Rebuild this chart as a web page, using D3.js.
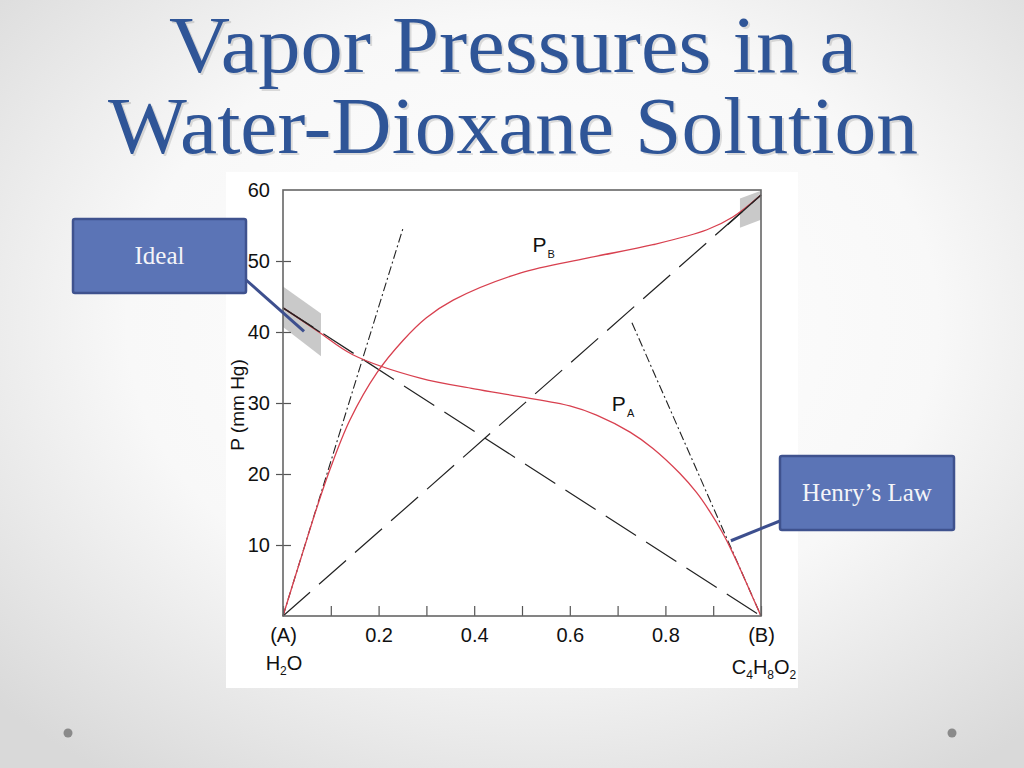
<!DOCTYPE html>
<html>
<head>
<meta charset="utf-8">
<script src="https://cdn.jsdelivr.net/npm/d3@7"></script>
<style>
  html, body { margin: 0; padding: 0; background: #fff; }
  svg { display: block; }
</style>
</head>
<body>
<div id="chart"></div>
<script>
// mole fraction of dioxane (x axis) and pressure in mm Hg (y axis)
var paX = [0, 0.04, 0.077, 0.146, 0.287, 0.40, 0.496, 0.600, 0.656, 0.726, 0.774, 0.830, 0.865, 0.893, 0.918, 0.935, 0.956, 0.977, 1]
var paP = [43.4, 41.6, 39.9, 36.8, 33.5, 32.0, 30.9, 29.6, 28.3, 25.9, 23.6, 20.1, 17.4, 14.7, 11.9, 9.7, 6.7, 3.5, 0]

var pbX = [0, 0.042, 0.071, 0.098, 0.140, 0.197, 0.251, 0.300, 0.356, 0.496, 0.636, 0.774, 0.887, 0.941, 1]
var pbP = [0, 9.1, 15.3, 20.6, 27.6, 34.3, 38.8, 42.0, 44.5, 48.3, 50.4, 52.3, 54.4, 56.2, 59.3]

// Raoult (ideal) lines and Henry's law lines
var idealAX = [0, 1], idealAP = [43.4, 0]
var idealBX = [0, 1], idealBP = [0, 59.3]
var henryBX = [0, 0.251], henryBP = [0, 54.6]
var henryAX = [0.730, 1], henryAP = [41.3, 0]
var solidAX = [0, 0.077], solidAP = [43.4, 40.0]
var solidBX = [0.93, 1], solidBP = [55.1, 59.3]

// shaded "ideal" regions
var bandLeftX = [0, 0.0795, 0.0795, 0], bandLeftP = [46.4, 42.6, 36.6, 40.7]
var bandRightX = [0.956, 1, 1, 0.956], bandRightP = [58.8, 59.9, 55.8, 54.7]

var xTicks = [0, 0.1, 0.2, 0.3, 0.4, 0.5, 0.6, 0.7, 0.8, 0.9, 1]
var xTickLabels = ["(A)", "", "0.2", "", "0.4", "", "0.6", "", "0.8", "", "(B)"]
var yTicks = [10, 20, 30, 40, 50, 60]

var width = 1024
var height = 768

var svg = d3.select("#chart").append("svg")
  .attr("width", width)
  .attr("height", height)

var defs = svg.append("defs")
var grad = defs.append("radialGradient")
  .attr("id", "bg")
  .attr("cx", "52%").attr("cy", "42%").attr("r", "72%")
grad.append("stop").attr("offset", "0%").attr("stop-color", "#ffffff")
grad.append("stop").attr("offset", "55%").attr("stop-color", "#f8f8f8")
grad.append("stop").attr("offset", "100%").attr("stop-color", "#d9d9d9")

svg.append("rect")
  .attr("width", width).attr("height", height)
  .attr("fill", "url(#bg)")

// corner dots
svg.append("circle").attr("cx", 68).attr("cy", 733).attr("r", 4.5).attr("fill", "#8a8a8a")
svg.append("circle").attr("cx", 952).attr("cy", 733).attr("r", 4.5).attr("fill", "#8a8a8a")

// title
var titleLines = ["Vapor Pressures in a", "Water-Dioxane Solution"]
var titleBase = [72, 153]
var titleLen = [688, 810]
var title = svg.append("g")
  .attr("font-family", "'Liberation Serif', 'Times New Roman', serif")
  .attr("font-size", 80)
  .attr("text-anchor", "middle")
titleLines.forEach(function (t, i) {
  title.append("text")
    .attr("x", 515).attr("y", titleBase[i] + 2)
    .attr("textLength", titleLen[i]).attr("lengthAdjust", "spacingAndGlyphs")
    .attr("fill", "rgba(0,0,0,0.12)")
    .text(t)
  title.append("text")
    .attr("x", 513).attr("y", titleBase[i])
    .attr("textLength", titleLen[i]).attr("lengthAdjust", "spacingAndGlyphs")
    .attr("fill", "#2f5597")
    .text(t)
})

// white picture panel
svg.append("rect")
  .attr("x", 226).attr("y", 172)
  .attr("width", 572).attr("height", 516)
  .attr("fill", "#ffffff")

var plotLeft = 283, plotRight = 761, plotTop = 190, plotBottom = 616

var x = d3.scaleLinear().domain([0, 1]).range([plotLeft, plotRight])
var y = d3.scaleLinear().domain([0, 60]).range([plotBottom, plotTop])

var line = d3.line()
  .x(function (d) { return x(d[0]) })
  .y(function (d) { return y(d[1]) })

var smooth = d3.line()
  .x(function (d) { return x(d[0]) })
  .y(function (d) { return y(d[1]) })
  .curve(d3.curveCatmullRom.alpha(0.5))

function pairs(xs, ps) {
  return xs.map(function (v, i) { return [v, ps[i]] })
}

var plot = svg.append("g")

// gray bands
plot.append("path")
  .attr("d", line(pairs(bandLeftX, bandLeftP)) + "Z")
  .attr("fill", "#c9c9c9")
plot.append("path")
  .attr("d", line(pairs(bandRightX, bandRightP)) + "Z")
  .attr("fill", "#c9c9c9")

// axis and frame
var xAxis = d3.axisBottom(x)
  .tickValues(xTicks)
  .tickSize(-10)
  .tickPadding(12)
  .tickFormat(function (d, i) { return xTickLabels[i] })

var gx = svg.append("g")
  .attr("transform", "translate(0," + plotBottom + ")")
  .call(xAxis)
gx.select(".domain").remove()
gx.selectAll(".tick line").attr("stroke", "#555").attr("stroke-width", 1.2)
gx.selectAll(".tick text")
  .attr("font-family", "'Liberation Sans', Arial, sans-serif")
  .attr("font-size", 20)
  .attr("fill", "#111")

var yAxis = d3.axisLeft(y)
  .tickValues(yTicks)
  .tickSize(7)
  .tickPadding(6)

var gy = svg.append("g")
  .attr("transform", "translate(" + plotLeft + ",0)")
  .call(yAxis)
gy.select(".domain").remove()
gy.selectAll(".tick line")
  .attr("x1", 8).attr("x2", -7)
  .attr("stroke", "#555").attr("stroke-width", 1.2)
  .filter(function (d) { return d === 60 }).remove()
gy.selectAll(".tick text")
  .attr("font-family", "'Liberation Sans', Arial, sans-serif")
  .attr("font-size", 20)
  .attr("fill", "#111")

svg.append("rect")
  .attr("x", plotLeft).attr("y", plotTop)
  .attr("width", plotRight - plotLeft).attr("height", plotBottom - plotTop)
  .attr("fill", "none")
  .attr("stroke", "#666")
  .attr("stroke-width", 1.6)

svg.append("text")
  .attr("transform", "translate(244," + ((plotTop + plotBottom) / 2 + 2) + ") rotate(-90)")
  .attr("text-anchor", "middle")
  .attr("font-family", "'Liberation Sans', Arial, sans-serif")
  .attr("font-size", 19)
  .attr("fill", "#111")
  .text("P (mm Hg)")

// compound names under the axis ends
function formula(parts, cx, cy) {
  var t = svg.append("text")
    .attr("x", cx).attr("y", cy)
    .attr("text-anchor", "middle")
    .attr("font-family", "'Liberation Sans', Arial, sans-serif")
    .attr("font-size", 20)
    .attr("fill", "#111")
  parts.forEach(function (p) {
    t.append("tspan")
      .attr("font-size", p[1] ? 12 : 20)
      .attr("dy", p[1] ? 5 : (p[2] ? -5 : 0))
      .text(p[0])
  })
}
formula([["H"], ["2", true], ["O", false, true]], x(0) + 1, 670)
formula([["C"], ["4", true], ["H", false, true], ["8", true], ["O", false, true], ["2", true]], x(1) + 3, 674)

// reference lines
var dashed = "36,12"
var dashDot = "9,3,2,3"
plot.append("path").attr("d", line(pairs(idealAX, idealAP)))
  .attr("fill", "none").attr("stroke", "#222").attr("stroke-width", 1.2)
  .attr("stroke-dasharray", dashed)
plot.append("path").attr("d", line(pairs(idealBX, idealBP)))
  .attr("fill", "none").attr("stroke", "#222").attr("stroke-width", 1.2)
  .attr("stroke-dasharray", dashed)
plot.append("path").attr("d", line(pairs(henryBX, henryBP)))
  .attr("fill", "none").attr("stroke", "#222").attr("stroke-width", 1.1)
  .attr("stroke-dasharray", dashDot)
plot.append("path").attr("d", line(pairs(henryAX, henryAP)))
  .attr("fill", "none").attr("stroke", "#222").attr("stroke-width", 1.1)
  .attr("stroke-dasharray", dashDot)

// vapor pressure curves
plot.append("path").attr("d", smooth(pairs(paX, paP)))
  .attr("fill", "none").attr("stroke", "#d8404f").attr("stroke-width", 1.3)
plot.append("path").attr("d", smooth(pairs(pbX, pbP)))
  .attr("fill", "none").attr("stroke", "#d8404f").attr("stroke-width", 1.3)

plot.append("path").attr("d", line(pairs(solidAX, solidAP)))
  .attr("fill", "none").attr("stroke", "#222").attr("stroke-width", 1.3)
plot.append("path").attr("d", line(pairs(solidBX, solidBP)))
  .attr("fill", "none").attr("stroke", "#222").attr("stroke-width", 1.3)

// curve labels
function pLabel(sub, px, py) {
  var t = svg.append("text")
    .attr("x", px).attr("y", py)
    .attr("font-family", "'Liberation Sans', Arial, sans-serif")
    .attr("font-size", 21)
    .attr("fill", "#111")
  t.append("tspan").text("P")
  t.append("tspan").attr("font-size", 11).attr("dy", 6).attr("dx", 1).text(sub)
}
pLabel("B", x(0.522), y(51.3))
pLabel("A", x(0.688), y(28.9))

// callouts
function callout(label, bx, by, bw, bh, from, toX, toP) {
  svg.append("line")
    .attr("x1", from[0]).attr("y1", from[1])
    .attr("x2", x(toX)).attr("y2", y(toP))
    .attr("stroke", "#3d4f8e").attr("stroke-width", 3)
  svg.append("rect")
    .attr("x", bx).attr("y", by)
    .attr("width", bw).attr("height", bh)
    .attr("rx", 2)
    .attr("fill", "#5b74b6")
    .attr("stroke", "#3f528e")
    .attr("stroke-width", 2.5)
  svg.append("text")
    .attr("x", bx + bw / 2).attr("y", by + bh / 2 + 8)
    .attr("text-anchor", "middle")
    .attr("font-family", "'Liberation Serif', 'Times New Roman', serif")
    .attr("font-size", 25)
    .attr("fill", "#f4f4f8")
    .text(label)
}
callout("Ideal", 73, 219, 173, 74, [245, 279], 0.044, 40.1)
callout("Henry\u2019s Law", 780, 456, 174, 74, [785, 519], 0.937, 10.6)
</script>
</body>
</html>
